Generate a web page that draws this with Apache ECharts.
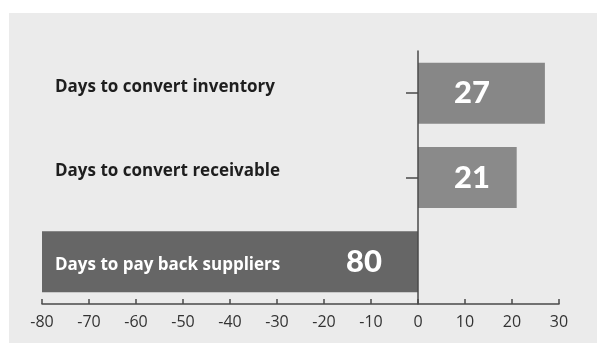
<!DOCTYPE html>
<html>
<head>
<meta charset="utf-8">
<script src="https://cdn.jsdelivr.net/npm/echarts@6/dist/echarts.min.js"></script>
<style>
  html, body { margin: 0; padding: 0; background: #ffffff; }
  #chart { width: 597px; height: 343px; }
</style>
</head>
<body>
<div id="chart"></div>
<script>
// Cash conversion cycle components (days)
const categories = ['Days to convert inventory', 'Days to convert receivable', 'Days to pay back suppliers'];
const days = [27, 21, -80];
const valueLabels = ['27', '21', '80'];
const xTicks = { min: -80, max: 30, step: 10 };

const barColors = ['#878787', '#8a8a8a', '#666666'];

const chart = echarts.init(document.getElementById('chart'), null, { renderer: 'canvas' });

const seriesData = days.map((v, i) => ({
  value: v,
  itemStyle: { color: barColors[i] },
  label: {
    position: v < 0 ? 'insideRight' : 'insideLeft',
    distance: 36,
    formatter: valueLabels[i]
  }
}));

chart.setOption({
  animation: false,
  graphic: [{
    type: 'rect',
    z: -10,
    shape: { x: 9, y: 13, width: 600, height: 340 },
    style: { fill: '#ebebeb' }
  }],
  grid: { left: 42, right: 38, top: 51, bottom: 39, containLabel: false, outerBoundsMode: 'none' },
  xAxis: {
    type: 'value',
    min: xTicks.min,
    max: xTicks.max,
    interval: xTicks.step,
    splitLine: { show: false },
    axisLine: { show: true, lineStyle: { color: '#4a4a4a', width: 1.5 } },
    axisTick: { show: true, inside: true, length: 5, lineStyle: { color: '#4a4a4a', width: 1.5 } },
    axisLabel: {
      margin: 10,
      color: '#333333',
      fontFamily: 'Open Sans',
      fontSize: 16
    }
  },
  yAxis: {
    type: 'category',
    inverse: true,
    data: categories,
    z: 3,
    axisLine: { show: true, onZero: true, lineStyle: { color: '#4a4a4a', width: 1.5 } },
    axisTick: {
      show: true,
      alignWithLabel: true,
      length: 12,
      interval: (idx) => days[idx] >= 0,
      lineStyle: { color: '#4a4a4a', width: 1.5 }
    },
    axisLabel: {
      align: 'left',
      margin: -13,
      formatter: (val, idx) => (days[idx] < 0 ? '{inBar|' + val + '}' : '{outBar|' + val + '}'),
      rich: {
        outBar: {
          color: '#1e1e1e',
          fontFamily: 'Open Sans',
          fontWeight: 700,
          fontSize: 17,
          padding: [0, 0, 12, 0]
        },
        inBar: {
          color: '#ffffff',
          fontFamily: 'Open Sans',
          fontWeight: 700,
          fontSize: 17,
          padding: [6, 0, 0, 0]
        }
      }
    }
  },
  series: [{
    type: 'bar',
    data: seriesData,
    barWidth: 61,
    label: {
      show: true,
      color: '#ffffff',
      fontFamily: 'Lato',
      fontWeight: 900,
      fontSize: 31
    }
  }]
});
</script>
</body>
</html>
